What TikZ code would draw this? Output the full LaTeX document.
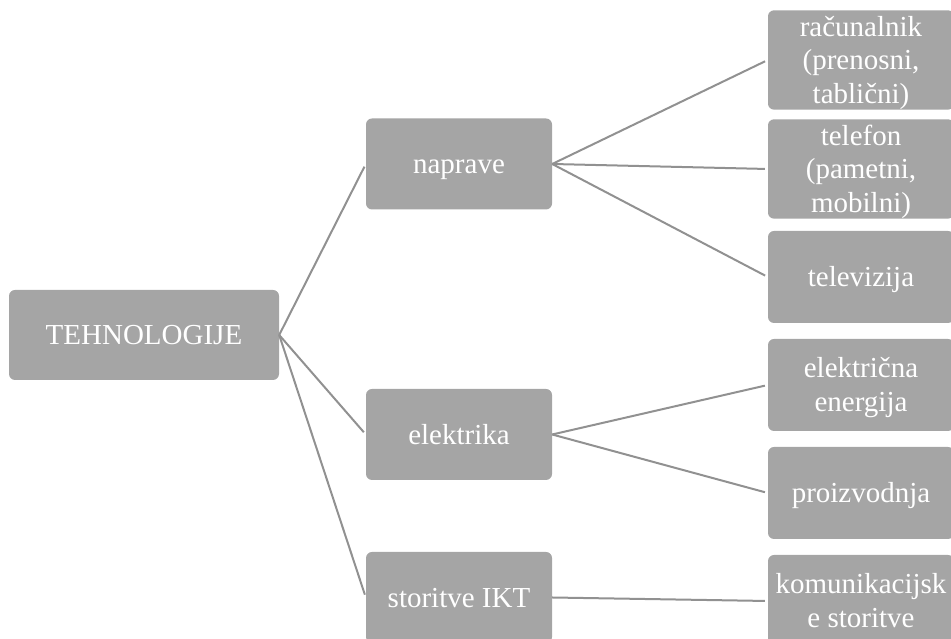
\documentclass[tikz,border=0pt]{standalone}
\usepackage{fontspec}
\setmainfont{Liberation Serif}
\definecolor{boxgray}{RGB}{165,165,165}
\definecolor{linkgray}{RGB}{145,145,145}
% line strut: font ascent and descent, so every line box has the same size
\newcommand\lstrut{\rule[-6.3pt]{0pt}{32.1pt}}
\tikzset{
  box/.style={draw=none, fill=boxgray, rounded corners=6pt, text=white,
    align=center, inner sep=0pt,
    font=\fontsize{29}{33.6}\selectfont},
  rootbox/.style={box, minimum width=270pt, minimum height=90pt},
  midbox/.style={box, minimum width=186pt, minimum height=91pt},
  leafbox/.style={box, minimum width=186pt, minimum height=92pt},
  link/.style={draw=linkgray, line width=2pt, shorten >=3pt}
}
\begin{document}
\begin{tikzpicture}[x=1pt,y=1pt]
  \useasboundingbox (0,0) rectangle (951,639);
  % y values are measured from the top edge
  \node[rootbox] (root) at (144,{639-335}) {\lstrut TEHNOLOGIJE};

  \node[midbox] (naprave)  at (459,{639-164})   {\lstrut naprave};
  \node[midbox] (elektrika) at (459,{639-434.5}) {\lstrut elektrika};
  \node[midbox] (storitve) at (459,{639-597.5}) {\lstrut storitve IKT};

  \node[leafbox] (racunalnik) at (861,{639-60})
    {\lstrut računalnik\\\lstrut (prenosni,\\\lstrut tablični)};
  \node[leafbox] (telefon)    at (861,{639-169})
    {\lstrut telefon\\\lstrut (pametni,\\\lstrut mobilni)};
  \node[leafbox] (tv)         at (861,{639-277}) {\lstrut televizija};
  \node[leafbox] (energija)   at (861,{639-385})
    {\lstrut električna\\\lstrut energija};
  \node[leafbox] (proizv)     at (861,{639-493}) {\lstrut proizvodnja};
  \node[leafbox] (komun)      at (861,{639-601})
    {\lstrut komunikacijsk\\\lstrut e storitve};

  \draw[link] (root.east) -- (naprave.west);
  \draw[link] (root.east) -- (elektrika.west);
  \draw[link] (root.east) -- (storitve.west);

  \draw[link] (naprave.east) -- (racunalnik.west);
  \draw[link] (naprave.east) -- (telefon.west);
  \draw[link] (naprave.east) -- (tv.west);

  \draw[link] (elektrika.east) -- (energija.west);
  \draw[link] (elektrika.east) -- (proizv.west);

  \draw[link] (storitve.east) -- (komun.west);
\end{tikzpicture}
\end{document}
